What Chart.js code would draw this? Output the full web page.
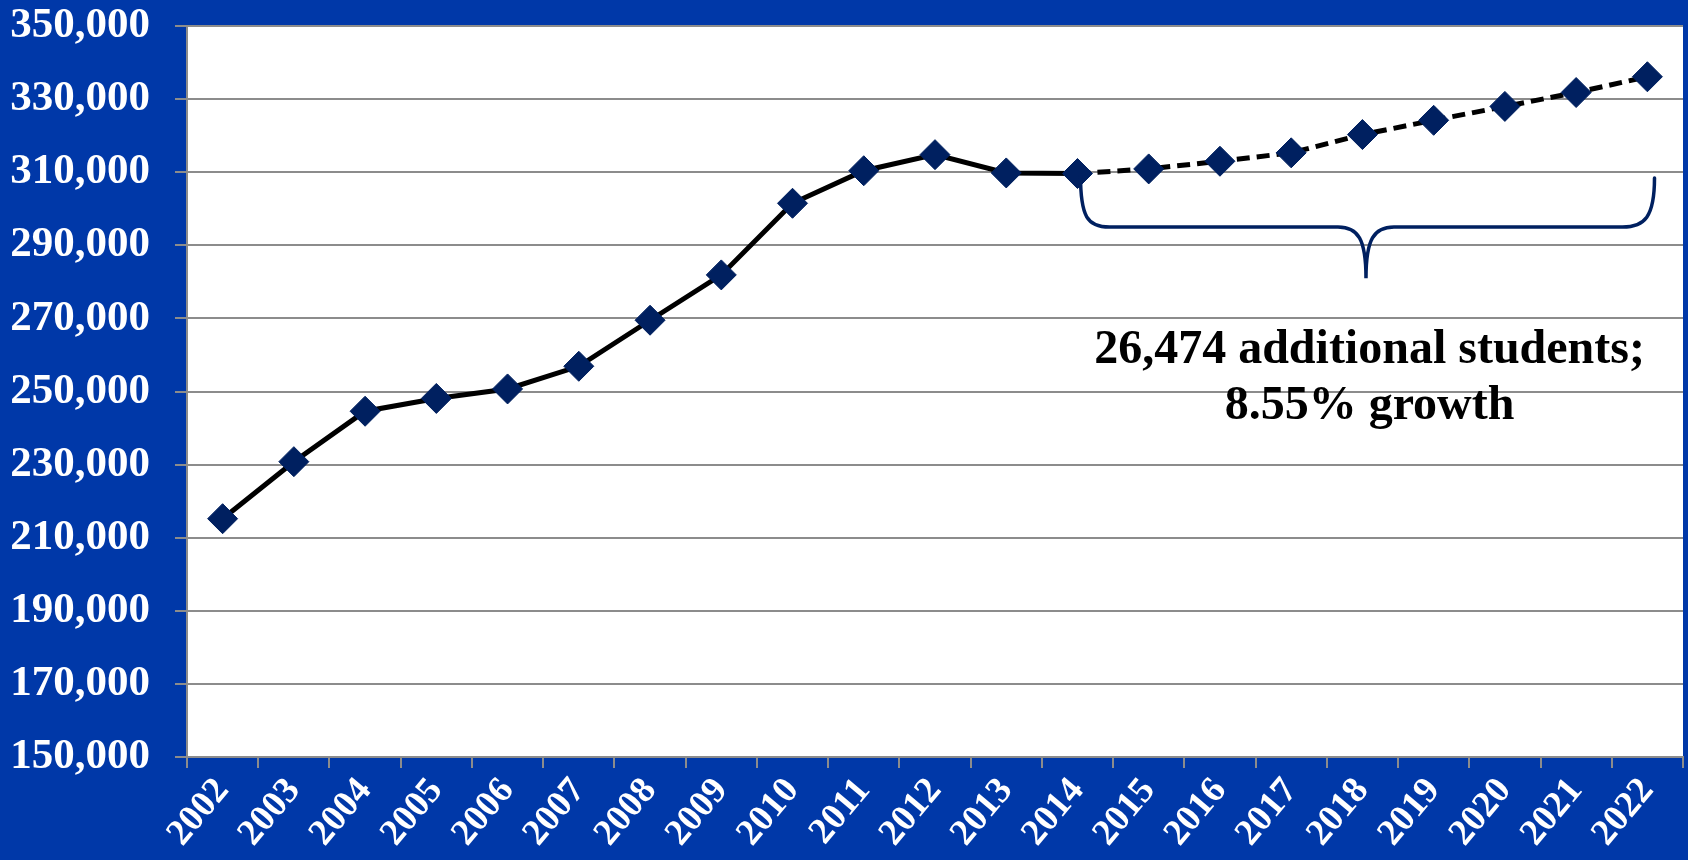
<!DOCTYPE html>
<html>
<head>
<meta charset="utf-8">
<script src="https://cdn.jsdelivr.net/npm/chart.js@4.4.1/dist/chart.umd.min.js"></script>
<style>
  html, body { margin: 0; padding: 0; background: #0038A8; }
  #wrap { width: 1688px; height: 860px; }
</style>
</head>
<body>
<div id="wrap"><canvas id="c" width="1688" height="860"></canvas></div>
<script>
// ---- data ----
const years = ['2002','2003','2004','2005','2006','2007','2008','2009','2010','2011','2012',
               '2013','2014','2015','2016','2017','2018','2019','2020','2021','2022'];
const enrollment = [215200, 230800, 244600, 248100, 250700, 256900, 269500, 281900, 301500, 310400, 314800,
                    309800, 309640, 310900, 313000, 315300, 320300, 324200, 328000, 331800, 336114];
const projectionStartIndex = 12; // 2014: dashed from here on
const yTicksMin = 150000;
const yTicksMax = 350000;
const yTickStep = 20000;
const annotationLines = ['26,474 additional students;', '8.55% growth'];

// ---- annotation placement (in axis units) ----
const braceLeftIndex = 12;
const braceRightIndex = 20.1;
const braceLeftTopValue = 309200;
const braceRightTopValue = 308400;
const braceBarValue = 295000;
const braceTipValue = 281000;
const textIndex = 16.1;
const textLine1Value = 257800;
const textLine2Value = 242500;

const BLUE = '#0038A8';
const NAVY = '#002060';
const GRID = '#8c8c8c';
const SERIF = '"Liberation Serif", "Times New Roman", serif';

const bgPlugin = {
  id: 'bg',
  beforeDraw(chart) {
    const { ctx, chartArea: a } = chart;
    ctx.save();
    ctx.fillStyle = BLUE;
    ctx.fillRect(0, 0, chart.width, chart.height);
    ctx.fillStyle = '#ffffff';
    ctx.fillRect(a.left, a.top, a.right - a.left, a.bottom - a.top);
    ctx.restore();
  }
};

const bracePlugin = {
  id: 'brace',
  afterDatasetsDraw(chart) {
    const { ctx } = chart;
    const x = chart.scales.x, y = chart.scales.y;
    const xL = x.getPixelForValue(braceLeftIndex);
    const xR = x.getPixelForValue(braceRightIndex);
    const xM = (xL + xR) / 2;
    const yTL = y.getPixelForValue(braceLeftTopValue);
    const yTR = y.getPixelForValue(braceRightTopValue);
    const yB = y.getPixelForValue(braceBarValue);
    const yT = y.getPixelForValue(braceTipValue);
    const rc = 32;   // end curve width
    const mc = 28;   // middle curve width
    ctx.save();
    ctx.strokeStyle = NAVY;
    ctx.lineWidth = 3.5;
    ctx.lineCap = 'round';
    ctx.beginPath();
    ctx.moveTo(xL + 3, yTL);
    ctx.bezierCurveTo(xL + 3, yB - 10, xL + 10, yB, xL + rc, yB);
    ctx.lineTo(xM - mc, yB);
    ctx.bezierCurveTo(xM - 8, yB, xM, yB + 12, xM, yT);
    ctx.bezierCurveTo(xM, yB + 12, xM + 8, yB, xM + mc, yB);
    ctx.lineTo(xR - rc, yB);
    ctx.bezierCurveTo(xR - 10, yB, xR, yB - 10, xR, yTR);
    ctx.stroke();

    ctx.fillStyle = '#000000';
    ctx.font = 'bold 48px ' + SERIF;
    ctx.textAlign = 'center';
    ctx.textBaseline = 'alphabetic';
    const tx = x.getPixelForValue(textIndex);
    ctx.fillText(annotationLines[0], tx, y.getPixelForValue(textLine1Value));
    ctx.fillText(annotationLines[1], tx, y.getPixelForValue(textLine2Value));
    ctx.restore();
  }
};

new Chart(document.getElementById('c'), {
  type: 'line',
  data: {
    labels: years,
    datasets: [{
      data: enrollment,
      borderColor: '#000000',
      borderWidth: 5,
      pointStyle: 'rectRot',
      pointRadius: 15,
      pointHoverRadius: 15,
      pointBackgroundColor: NAVY,
      pointBorderColor: NAVY,
      pointBorderWidth: 1,
      tension: 0,
      segment: {
        borderDash: ctx => ctx.p0DataIndex >= projectionStartIndex ? [13, 7] : undefined
      }
    }]
  },
  options: {
    responsive: false,
    devicePixelRatio: 1,
    animation: false,
    layout: { autoPadding: false, padding: { top: 26, right: 5, left: 0, bottom: 0 } },
    plugins: { legend: { display: false }, tooltip: { enabled: false } },
    scales: {
      x: {
        offset: true,
        grid: { offset: true, drawOnChartArea: false, drawTicks: true, tickLength: 11, color: GRID, lineWidth: 2 },
        border: { color: GRID, width: 2 },
        ticks: {
          autoSkip: false, minRotation: 50, maxRotation: 50, padding: 2,
          color: '#ffffff', font: { family: SERIF, weight: 'bold', size: 37 }
        },
        afterFit: s => { s.height = 103; s.paddingLeft = 0; s.paddingRight = 0; }
      },
      y: {
        min: yTicksMin, max: yTicksMax,
        grid: { color: GRID, lineWidth: 2, tickLength: 12 },
        border: { color: GRID, width: 2 },
        ticks: {
          stepSize: yTickStep, padding: 25, color: '#ffffff',
          font: { family: SERIF, weight: 'bold', size: 43 },
          callback: v => v.toLocaleString('en-US')
        },
        afterFit: s => { s.width = 187; s.paddingTop = 0; s.paddingBottom = 0; }
      }
    }
  },
  plugins: [bgPlugin, bracePlugin]
});
</script>
</body>
</html>
